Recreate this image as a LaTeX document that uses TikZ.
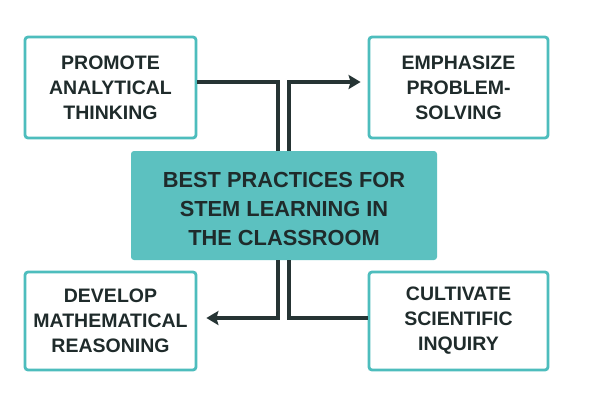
\documentclass[tikz,border=0pt]{standalone}
\usepackage{fontspec}
\setmainfont{Liberation Sans}
\usetikzlibrary{arrows.meta}
\definecolor{teal1}{HTML}{4DBDBD}
\definecolor{tealfill}{HTML}{5CC1C0}
\definecolor{ink}{HTML}{1F2B2B}
\definecolor{linec}{HTML}{263434}
\tikzset{
  outerbox/.style={draw=teal1, line width=2.8pt, fill=white, rounded corners=3pt, align=center, text=ink, inner sep=0pt,
    font=\fontsize{19.5}{25}\selectfont\bfseries},
  centerbox/.style={fill=tealfill, rounded corners=3pt, align=center, text=ink, inner sep=0pt,
    font=\fontsize{21.8}{28.5}\selectfont\bfseries},
  conn/.style={draw=linec, line width=3.2pt},
  arr/.style={conn, -{Stealth[length=12pt,width=14pt,inset=2pt]}}
}
\begin{document}
\begin{tikzpicture}[x=1pt,y=-1pt]
\useasboundingbox[fill=white] (0,0) rectangle (600,400);
\node[outerbox, minimum width=171pt, minimum height=101pt] (tl) at (110.5,87.5) {PROMOTE\\ANALYTICAL\\THINKING};
\node[outerbox, minimum width=179pt, minimum height=101pt] (tr) at (458.5,87.5) {EMPHASIZE\\PROBLEM-\\SOLVING};
\node[outerbox, minimum width=171pt, minimum height=98pt] (bl) at (110.5,321) {DEVELOP\\MATHEMATICAL\\REASONING};
\node[outerbox, minimum width=179pt, minimum height=98pt] (br) at (458.5,321) {CULTIVATE\\SCIENTIFIC\\INQUIRY};
\node[centerbox, minimum width=306pt, minimum height=109pt] (c) at (284,205.5) {\raisebox{-10.6pt}[0pt][0pt]{\begin{tabular}{@{}c@{}}BEST PRACTICES FOR\\[0.5pt]STEM LEARNING IN\\[0.5pt]THE CLASSROOM\end{tabular}}};
% connectors
\draw[conn] ([yshift=5.5pt]tl.east) -| ([xshift=-6pt]c.north);
\draw[arr] ([xshift=5pt]c.north) |- ([xshift=-7pt,yshift=5.5pt]tr.west);
\draw[arr] ([xshift=-6pt]c.south) |- ([xshift=9pt,yshift=3pt]bl.east);
\draw[conn] ([yshift=3pt]br.west) -| ([xshift=5pt]c.south);
\end{tikzpicture}
\end{document}
